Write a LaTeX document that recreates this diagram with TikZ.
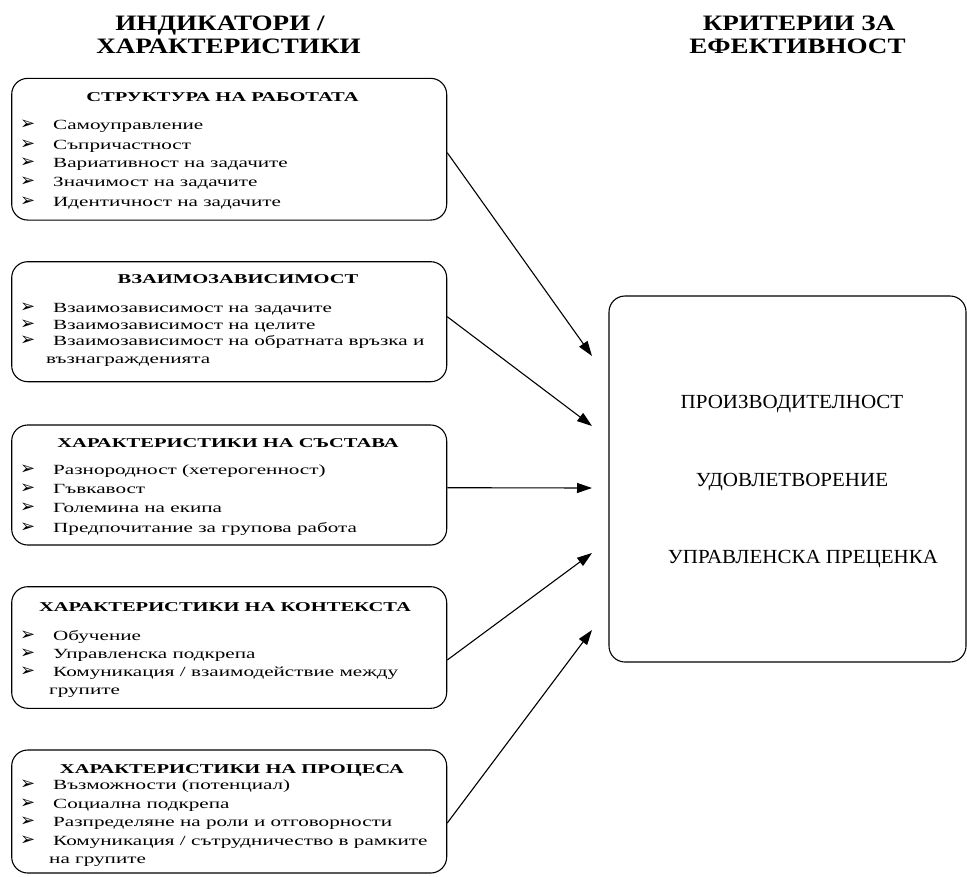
\documentclass[tikz,border=0pt]{standalone}
\usepackage{fontspec}
\usetikzlibrary{arrows.meta}
\setmainfont{Liberation Serif}
\newfontfamily\itemfont[FakeStretch=1.51]{Liberation Serif}
\newfontfamily\titlefont[FakeStretch=1.52]{Liberation Serif}
\newfontfamily\headfont[FakeStretch=1.23]{Liberation Serif}
\newfontfamily\critfont[FakeStretch=1.05]{Liberation Serif}
\newfontfamily\symfont{DejaVu Sans}

\tikzset{
  panel/.style={draw=black, line width=1.1pt, rounded corners=16pt, inner sep=0pt},
  headtxt/.style={anchor=base, inner sep=0pt, font=\headfont\bfseries\fontsize{22}{24}\selectfont},
  titletxt/.style={anchor=base, inner sep=0pt, font=\titlefont\bfseries\fontsize{13.5}{15}\selectfont},
  itemtxt/.style={anchor=base west, inner sep=0pt, font=\itemfont\fontsize{14}{16}\selectfont},
  bul/.style={anchor=base west, inner sep=0pt, font=\symfont\fontsize{18}{19}\selectfont},
  crittxt/.style={anchor=base, inner sep=0pt, font=\critfont\fontsize{20}{22}\selectfont},
  conn/.style={draw=black, line width=1.1pt, -{Triangle[length=15pt,width=10pt]}}
}

\begin{document}
\begin{tikzpicture}[x=1pt, y=-1pt]
\useasboundingbox (0,0) rectangle (967,876);

% column headings
\node[headtxt] (h1a) at (220,30) {ИНДИКАТОРИ /};
\node[headtxt] (h1b) at (228.5,53) {ХАРАКТЕРИСТИКИ};
\node[headtxt] (h2a) at (799,30) {КРИТЕРИИ ЗА};
\node[headtxt] (h2b) at (797.5,53) {ЕФЕКТИВНОСТ};

% indicator panels
\node[panel, minimum width=435pt, minimum height=141.7pt] (b1) at (229.2,149.2) {};
\node[panel, minimum width=435pt, minimum height=120pt] (b2) at (229.2,321.7) {};
\node[panel, minimum width=435pt, minimum height=120pt] (b3) at (229.2,485) {};
\node[panel, minimum width=435pt, minimum height=121.6pt] (b4) at (229.2,647.5) {};
\node[panel, minimum width=435pt, minimum height=123pt] (b5) at (229.2,811.5) {};

% effectiveness criteria panel
\node[panel, minimum width=357pt, minimum height=366pt] (crit) at (787.5,479) {};

% panel 1
\node[titletxt] (b1t) at (222.5,101.5) {СТРУКТУРА НА РАБОТАТА};
\foreach \y/\txt [count=\i] in {129.3/{Самоуправление}, 149/{Съпричастност}, 167.7/{Вариативност на задачите}, 186.7/{Значимост на задачите}, 206.7/{Идентичност на задачите}}{
  \node[bul] (b1m\i) at (20,\y) {➢};
  \node[itemtxt] (b1i\i) at (53,\y) {\txt};
}

% panel 2
\node[titletxt] (b2t) at (238,283.3) {ВЗАИМОЗАВИСИМОСТ};
\foreach \y/\txt [count=\i] in {312.3/{Взаимозависимост на задачите}, 329/{Взаимозависимост на целите}, 345.7/{Взаимозависимост на обратната връзка и}}{
  \node[bul] (b2m\i) at (20,\y) {➢};
  \node[itemtxt] (b2i\i) at (53,\y) {\txt};
}
\node[itemtxt] (b2c) at (46,363.3) {възнагражденията};

% panel 3
\node[titletxt] (b3t) at (228,447.3) {ХАРАКТЕРИСТИКИ НА СЪСТАВА};
\foreach \y/\txt [count=\i] in {474.3/{Разнородност (хетерогенност)}, 493/{Гъвкавост}, 512/{Големина на екипа}, 532/{Предпочитание за групова работа}}{
  \node[bul] (b3m\i) at (20,\y) {➢};
  \node[itemtxt] (b3i\i) at (53,\y) {\txt};
}

% panel 4
\node[titletxt] (b4t) at (225,611.7) {ХАРАКТЕРИСТИКИ НА КОНТЕКСТА};
\foreach \y/\txt [count=\i] in {640/{Обучение}, 658.3/{Управленска подкрепа}, 676.7/{Комуникация / взаимодействие между}}{
  \node[bul] (b4m\i) at (20,\y) {➢};
  \node[itemtxt] (b4i\i) at (53,\y) {\txt};
}
\node[itemtxt] (b4c) at (49,694) {групите};

% panel 5
\node[titletxt] (b5t) at (232,773) {ХАРАКТЕРИСТИКИ НА ПРОЦЕСА};
\foreach \y/\txt [count=\i] in {789/{Възможности (потенциал)}, 808/{Социална подкрепа}, 826.7/{Разпределяне на роли и отговорности}, 845/{Комуникация / сътрудничество в рамките}}{
  \node[bul] (b5m\i) at (20,\y) {➢};
  \node[itemtxt] (b5i\i) at (53,\y) {\txt};
}
\node[itemtxt] (b5c) at (49,863.5) {на групите};

% criteria
\node[crittxt] (c1) at (792,408) {ПРОИЗВОДИТЕЛНОСТ};
\node[crittxt] (c2) at (792,486) {УДОВЛЕТВОРЕНИЕ};
\node[crittxt] (c3) at (803,563) {УПРАВЛЕНСКА ПРЕЦЕНКА};

% arrow tips in front of the criteria panel
\coordinate (t1) at (592,356);
\coordinate (t2) at (592,426);
\coordinate (t3) at (592,488);
\coordinate (t4) at (592,553);
\coordinate (t5) at (592,630);

\draw[conn] ([yshift=-3.5pt]b1.east) -- (t1);
\draw[conn] ([yshift=5pt]b2.east) -- (t2);
\draw[conn] ([yshift=-2.7pt]b3.east) -- (t3);
\draw[conn] ([yshift=-12.5pt]b4.east) -- (t4);
\draw[conn] ([yshift=-11.5pt]b5.east) -- (t5);
\end{tikzpicture}
\end{document}
